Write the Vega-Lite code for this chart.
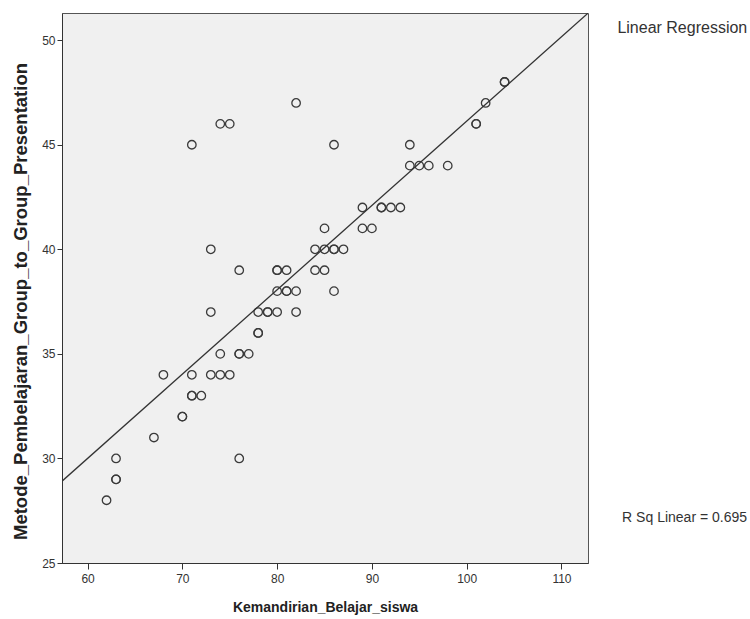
{
  "$schema": "https://vega.github.io/schema/vega-lite/v6.json",
  "width": 526,
  "height": 550,
  "autosize": {"type": "none"},
  "padding": {"left": 62, "top": 13, "right": 162, "bottom": 56},
  "background": "white",
  "config": {
    "view": {"fill": "#f0f0f0", "stroke": "#555555", "strokeWidth": 1},
    "font": "Liberation Sans",
    "axis": {
      "grid": false,
      "domainColor": "#333333",
      "domainWidth": 1,
      "tickColor": "#333333",
      "tickSize": 6,
      "labelFontSize": 12,
      "labelColor": "#333333",
      "labelFlush": false,
      "titleFontWeight": "bold",
      "titleColor": "#222222"
    }
  },
  "datasets": {
    "pts": [
      {"kemandirian": 62, "metode": 28},
      {"kemandirian": 63, "metode": 29},
      {"kemandirian": 63, "metode": 29},
      {"kemandirian": 63, "metode": 30},
      {"kemandirian": 67, "metode": 31},
      {"kemandirian": 68, "metode": 34},
      {"kemandirian": 70, "metode": 32},
      {"kemandirian": 70, "metode": 32},
      {"kemandirian": 71, "metode": 33},
      {"kemandirian": 71, "metode": 33},
      {"kemandirian": 71, "metode": 34},
      {"kemandirian": 71, "metode": 45},
      {"kemandirian": 72, "metode": 33},
      {"kemandirian": 73, "metode": 34},
      {"kemandirian": 73, "metode": 37},
      {"kemandirian": 73, "metode": 40},
      {"kemandirian": 74, "metode": 34},
      {"kemandirian": 74, "metode": 35},
      {"kemandirian": 74, "metode": 46},
      {"kemandirian": 75, "metode": 34},
      {"kemandirian": 75, "metode": 46},
      {"kemandirian": 76, "metode": 30},
      {"kemandirian": 76, "metode": 35},
      {"kemandirian": 76, "metode": 35},
      {"kemandirian": 76, "metode": 39},
      {"kemandirian": 77, "metode": 35},
      {"kemandirian": 78, "metode": 36},
      {"kemandirian": 78, "metode": 36},
      {"kemandirian": 78, "metode": 37},
      {"kemandirian": 79, "metode": 37},
      {"kemandirian": 79, "metode": 37},
      {"kemandirian": 80, "metode": 37},
      {"kemandirian": 80, "metode": 38},
      {"kemandirian": 80, "metode": 39},
      {"kemandirian": 80, "metode": 39},
      {"kemandirian": 81, "metode": 38},
      {"kemandirian": 81, "metode": 38},
      {"kemandirian": 81, "metode": 39},
      {"kemandirian": 82, "metode": 37},
      {"kemandirian": 82, "metode": 38},
      {"kemandirian": 82, "metode": 47},
      {"kemandirian": 84, "metode": 39},
      {"kemandirian": 84, "metode": 40},
      {"kemandirian": 85, "metode": 39},
      {"kemandirian": 85, "metode": 40},
      {"kemandirian": 85, "metode": 41},
      {"kemandirian": 86, "metode": 38},
      {"kemandirian": 86, "metode": 40},
      {"kemandirian": 86, "metode": 40},
      {"kemandirian": 86, "metode": 45},
      {"kemandirian": 87, "metode": 40},
      {"kemandirian": 89, "metode": 41},
      {"kemandirian": 89, "metode": 42},
      {"kemandirian": 90, "metode": 41},
      {"kemandirian": 91, "metode": 42},
      {"kemandirian": 91, "metode": 42},
      {"kemandirian": 92, "metode": 42},
      {"kemandirian": 93, "metode": 42},
      {"kemandirian": 94, "metode": 44},
      {"kemandirian": 94, "metode": 45},
      {"kemandirian": 95, "metode": 44},
      {"kemandirian": 96, "metode": 44},
      {"kemandirian": 98, "metode": 44},
      {"kemandirian": 101, "metode": 46},
      {"kemandirian": 101, "metode": 46},
      {"kemandirian": 102, "metode": 47},
      {"kemandirian": 104, "metode": 48},
      {"kemandirian": 104, "metode": 48}
    ],
    "legendnote": [{"label": "Linear Regression"}],
    "rsqnote": [{"label": "R Sq Linear = 0.695"}]
  },
  "layer": [
    {
      "data": {"name": "pts"},
      "mark": {"type": "point", "shape": "circle", "filled": false, "size": 72, "stroke": "#3a3a3a", "strokeWidth": 1.3, "opacity": 1},
      "encoding": {
        "x": {
          "field": "kemandirian",
          "type": "quantitative",
          "scale": {"domain": [57.3, 112.8], "nice": false, "zero": false},
          "axis": {"values": [60, 70, 80, 90, 100, 110], "title": "Kemandirian_Belajar_siswa", "titleFontSize": 14, "titlePadding": 16, "labelPadding": 4}
        },
        "y": {
          "field": "metode",
          "type": "quantitative",
          "scale": {"domain": [25, 51.3], "nice": false, "zero": false},
          "axis": {"values": [25, 30, 35, 40, 45, 50], "title": "Metode_Pembelajaran_Group_to_Group_Presentation", "titleFontSize": 18.5, "titleX": -42, "titleY": 288, "titleBaseline": "middle", "titleAnchor": "middle", "labelPadding": 2, "tickSize": 5}
        }
      }
    },
    {
      "data": {"name": "pts"},
      "transform": [{"regression": "metode", "on": "kemandirian", "extent": [57.3, 112.8]}],
      "mark": {"type": "line", "color": "#333333", "strokeWidth": 1.3, "clip": true},
      "encoding": {
        "x": {"field": "kemandirian", "type": "quantitative"},
        "y": {"field": "metode", "type": "quantitative"}
      }
    },
    {
      "data": {"name": "legendnote"},
      "mark": {"type": "text", "align": "left", "baseline": "middle", "fontSize": 16, "color": "#333333"},
      "encoding": {
        "x": {"datum": 115.9, "type": "quantitative"},
        "y": {"datum": 50.6, "type": "quantitative"},
        "text": {"field": "label"}
      }
    },
    {
      "data": {"name": "rsqnote"},
      "mark": {"type": "text", "align": "left", "baseline": "middle", "fontSize": 14, "color": "#333333"},
      "encoding": {
        "x": {"datum": 116.4, "type": "quantitative"},
        "y": {"datum": 27.15, "type": "quantitative"},
        "text": {"field": "label"}
      }
    }
  ]
}
